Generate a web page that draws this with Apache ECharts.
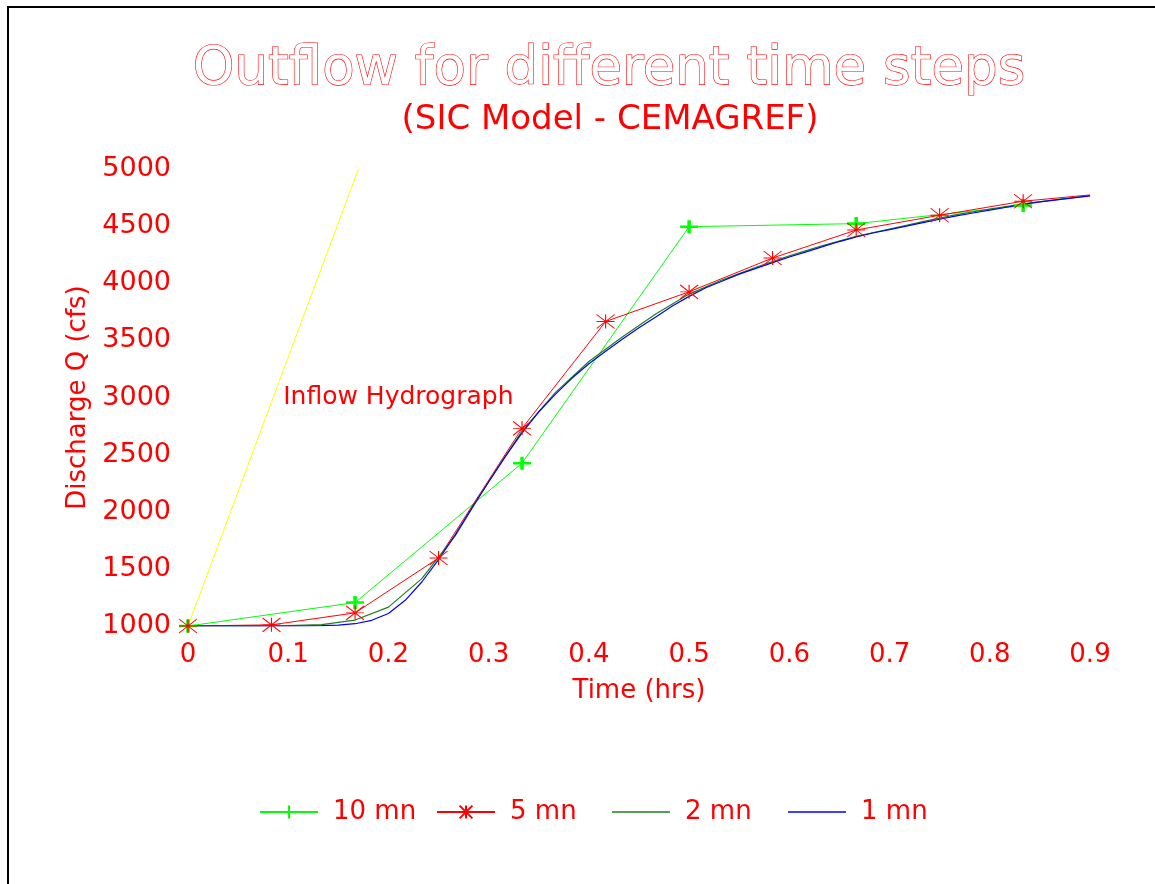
<!DOCTYPE html>
<html>
<head>
<meta charset="utf-8">
<script src="https://cdn.jsdelivr.net/npm/echarts@6/dist/echarts.min.js"></script>
<style>html,body{margin:0;padding:0;background:#fff;}#c{width:1155px;height:884px;}</style>
</head>
<body>
<div id="c"></div>
<script>
// ---- data (time in hrs, discharge in cfs) ----
const inflowT = [0, 0.17];
const inflowQ = [1000, 5000];

const t10 = [0, 0.1667, 0.3333, 0.5, 0.6667, 0.8333];
const q10 = [1000, 1205, 2425, 4495, 4522, 4680];

const t5 = [0, 0.0833, 0.1667, 0.25, 0.3333, 0.4167, 0.5, 0.5833, 0.6667, 0.75, 0.8333, 0.9];
const q5 = [1000, 1010, 1115, 1595, 2730, 3665, 3925, 4221, 4466, 4595, 4718, 4773];

const t2 = [0, 0.0333, 0.0667, 0.1, 0.1333, 0.1667, 0.2, 0.2333, 0.2667, 0.3, 0.3333, 0.3667, 0.4, 0.4333,
            0.4667, 0.5, 0.5333, 0.5667, 0.6, 0.6333, 0.6667, 0.7, 0.7333, 0.7667, 0.8, 0.8333, 0.8667, 0.9];
const q2 = [1000, 1000, 1000, 1003, 1012, 1052, 1165, 1415, 1790, 2265, 2705, 3045, 3315, 3530,
            3730, 3905, 4030, 4140, 4240, 4330, 4410, 4475, 4540, 4600, 4650, 4695, 4732, 4766];

const t1 = [0, 0.0167, 0.0333, 0.05, 0.0667, 0.0833, 0.1, 0.1167, 0.1333, 0.15, 0.1667, 0.1833, 0.2, 0.2167,
            0.2333, 0.25, 0.2667, 0.2833, 0.3, 0.3167, 0.3333, 0.35, 0.3667, 0.3833, 0.4, 0.4167, 0.4333, 0.45,
            0.4667, 0.4833, 0.5, 0.5167, 0.5333, 0.55, 0.5667, 0.5833, 0.6, 0.6167, 0.6333, 0.65, 0.6667, 0.6833,
            0.7, 0.7167, 0.7333, 0.75, 0.7667, 0.7833, 0.8, 0.8167, 0.8333, 0.85, 0.8667, 0.8833, 0.9];
const q1 = [1000, 1000, 1000, 1000, 1000, 1000, 1000, 1000, 1003, 1008, 1020, 1050, 1110, 1225,
            1385, 1580, 1800, 2035, 2260, 2485, 2690, 2875, 3030, 3170, 3295, 3405, 3510, 3610,
            3705, 3800, 3885, 3960, 4020, 4080, 4130, 4180, 4230, 4275, 4320, 4365, 4405, 4440,
            4470, 4500, 4530, 4560, 4590, 4615, 4640, 4665, 4690, 4712, 4730, 4747, 4764];

const seriesNames = ['10 mn', '5 mn', '2 mn', '1 mn'];
const xTicks = [0, 0.9, 0.1];      // min, max, interval
const yTicks = [1000, 5000, 500];  // min, max, interval
const titleText = 'Outflow for different time steps';
const subtitleText = '(SIC Model - CEMAGREF)';
const inflowLabel = 'Inflow Hydrograph';

// ---- build ----
const zip = (t, q) => t.map((x, i) => [x, q[i]]);
const RED = '#ff0000';
const FONT = 'DejaVu Sans';
const plusPath = 'path://M0,6.5L18,6.5M9,0L9,13';
const starPath = 'path://M0,0L18,14M18,0L0,14M9,0L9,14M0,7L18,7';

const d5 = zip(t5, q5);
d5[d5.length - 1] = { value: d5[d5.length - 1], symbol: 'none' };

const chart = echarts.init(document.getElementById('c'), null, { renderer: 'canvas' });
const legendLefts = [254, 431, 607, 783];
const legendTextStyle = { fontFamily: FONT, fontSize: 26, color: RED, padding: [0, 0, 0, 10] };
chart.setOption({
  animation: false,
  backgroundColor: '#fff',
  title: [
    { text: titleText, left: 604, top: 39, textAlign: 'center',
      textStyle: { fontFamily: FONT, fontSize: 53, fontWeight: 'normal', color: '#ffffff',
                   textBorderColor: RED, textBorderWidth: 1.2 } },
    { text: subtitleText, left: 605, top: 98, textAlign: 'center',
      textStyle: { fontFamily: FONT, fontSize: 34, fontWeight: 'normal', color: RED } }
  ],
  legend: [
    { data: [seriesNames[0]], left: legendLefts[0], top: 794, itemWidth: 58, itemHeight: 16, textStyle: legendTextStyle },
    { data: [seriesNames[1]], left: legendLefts[1], top: 794, itemWidth: 58, itemHeight: 16, textStyle: legendTextStyle },
    { data: [{ name: seriesNames[2], icon: 'rect' }], left: legendLefts[2], top: 794, itemWidth: 58, itemHeight: 1.5,
      textStyle: legendTextStyle },
    { data: [{ name: seriesNames[3], icon: 'rect' }], left: legendLefts[3], top: 794, itemWidth: 58, itemHeight: 1.5,
      textStyle: legendTextStyle }
  ],
  grid: { left: 188, right: 65, top: 169, bottom: 258, containLabel: false },
  xAxis: {
    type: 'value', min: xTicks[0], max: xTicks[1], interval: xTicks[2],
    name: 'Time (hrs)', nameLocation: 'middle', nameGap: 52,
    nameTextStyle: { fontFamily: FONT, fontSize: 26, color: RED },
    axisLine: { show: false }, axisTick: { show: false }, splitLine: { show: false },
    axisLabel: { fontFamily: FONT, fontSize: 26, color: RED, margin: 16,
                 formatter: v => String(Math.round(v * 10) / 10) }
  },
  yAxis: {
    type: 'value', min: yTicks[0], max: yTicks[1], interval: yTicks[2],
    name: 'Discharge Q (cfs)', nameLocation: 'middle', nameGap: 90,
    nameTextStyle: { fontFamily: FONT, fontSize: 26, color: RED },
    axisLine: { show: false }, axisTick: { show: false }, splitLine: { show: false },
    axisLabel: { fontFamily: FONT, fontSize: 27, color: RED, margin: 17,
                 formatter: v => String(v) }
  },
  graphic: [
    { type: 'rect', shape: { x: 8, y: 7, width: 1200, height: 1000 }, silent: true,
      style: { fill: 'none', stroke: '#000', lineWidth: 2 } }
  ],
  series: [
    { name: 'Inflow', type: 'line', data: zip(inflowT, inflowQ), symbol: 'none',
      lineStyle: { color: '#ffff00', width: 1 }, itemStyle: { color: '#ffff00' },
      markPoint: { symbol: 'circle', symbolSize: 0, silent: true,
        data: [{ coord: [0.095, 3000], label: { show: true, position: 'right', distance: 0,
          formatter: inflowLabel, fontFamily: FONT, fontSize: 25, color: RED } }] } },
    { name: seriesNames[0], type: 'line', data: zip(t10, q10), symbol: plusPath, symbolSize: [18, 13],
      lineStyle: { color: '#00ff00', width: 1 },
      itemStyle: { color: 'rgba(0,0,0,0)', borderColor: '#00ff00', borderWidth: 3 } },
    { name: seriesNames[1], type: 'line', data: d5, symbol: starPath, symbolSize: [18, 14],
      lineStyle: { color: RED, width: 1 },
      itemStyle: { color: 'rgba(0,0,0,0)', borderColor: RED, borderWidth: 1 } },
    { name: seriesNames[2], type: 'line', data: zip(t2, q2), symbol: 'none',
      lineStyle: { color: '#1f7f1f', width: 1.2 }, itemStyle: { color: '#1f7f1f' } },
    { name: seriesNames[3], type: 'line', data: zip(t1, q1), symbol: 'none',
      lineStyle: { color: '#0000ff', width: 1.2 }, itemStyle: { color: '#0000ff' } }
  ]
});
</script>
</body>
</html>
